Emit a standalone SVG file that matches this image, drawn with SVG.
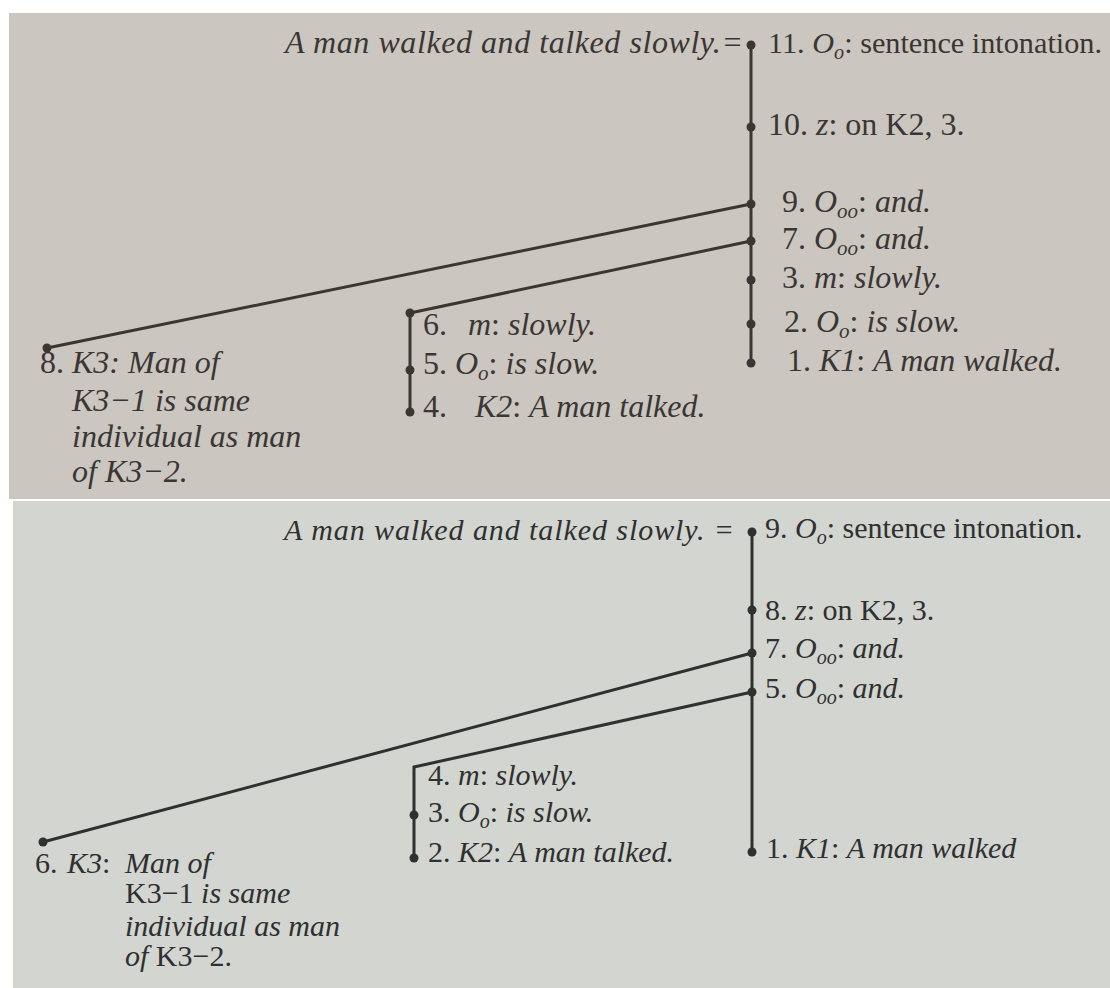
<svg xmlns="http://www.w3.org/2000/svg" width="1110" height="988" viewBox="0 0 1110 988">
<style>
.t{font-family:"Liberation Serif","Times New Roman",serif;font-size:32px;fill:#3a3634}
.b{font-size:30px;fill:#2f302f}
.i{font-style:italic}
.s{font-size:21px;font-style:italic}
.b .s{font-size:20px}
.ln{stroke:#3a3634;stroke-width:3;fill:none;stroke-linecap:round;stroke-linejoin:miter}
.lb{stroke:#2f302f}
.d{fill:#3a3634}
.db{fill:#2f302f}
</style>
<rect x="0" y="0" width="1110" height="988" fill="#ffffff"/>
<rect id="panel-top" x="9" y="13" width="1101" height="486" fill="#cbc6c0"/>
<rect id="panel-bottom" x="13" y="501" width="1097" height="487" fill="#d3d5d1"/>

<!-- TOP PANEL -->
<g id="top-connectors">
<line class="ln" x1="751" y1="45" x2="751" y2="363"/>
<line class="ln" x1="751" y1="204" x2="47" y2="348"/>
<polyline class="ln" points="751,241 410,313 410,412"/>
</g>
<g id="top-title"><text class="t i" x="743" y="53" text-anchor="end" textLength="458" lengthAdjust="spacing">A man walked and talked slowly.=</text></g>
<g id="top-n11"><circle class="d" cx="751" cy="45" r="4.5"/><text class="t" x="768" y="53" style="font-size:30px" textLength="334" lengthAdjust="spacingAndGlyphs">11. <tspan class="i">O</tspan><tspan class="s" style="font-size:20px" dy="6">o</tspan><tspan dy="-6">: sentence intonation.</tspan></text></g>
<g id="top-n10"><circle class="d" cx="751" cy="127" r="4.5"/><text class="t" x="768" y="135">10. <tspan class="i">z</tspan>: on K2, 3.</text></g>
<g id="top-n9"><circle class="d" cx="751" cy="204" r="4.5"/><text class="t" x="782" y="212">9. <tspan class="i">O</tspan><tspan class="s" dy="6">oo</tspan><tspan dy="-6">: </tspan><tspan class="i">and.</tspan></text></g>
<g id="top-n7"><circle class="d" cx="751" cy="241" r="4.5"/><text class="t" x="782" y="249">7. <tspan class="i">O</tspan><tspan class="s" dy="6">oo</tspan><tspan dy="-6">: </tspan><tspan class="i">and.</tspan></text></g>
<g id="top-n3"><circle class="d" cx="751" cy="280" r="4.5"/><text class="t" x="782" y="288">3. <tspan class="i">m</tspan>: <tspan class="i">slowly.</tspan></text></g>
<g id="top-n2"><circle class="d" cx="751" cy="324" r="4.5"/><text class="t" x="784" y="332">2. <tspan class="i">O</tspan><tspan class="s" dy="6">o</tspan><tspan dy="-6">: </tspan><tspan class="i">is slow.</tspan></text></g>
<g id="top-n1"><circle class="d" cx="751" cy="363" r="4.5"/><text class="t" x="787" y="371">1. <tspan class="i">K1</tspan>: <tspan class="i">A man walked.</tspan></text></g>
<g id="top-n6"><circle class="d" cx="410" cy="313" r="4.5"/><text class="t" x="423" y="335">6.<tspan x="468" class="i">m</tspan>: <tspan class="i">slowly.</tspan></text></g>
<g id="top-n5"><circle class="d" cx="410" cy="370" r="4.5"/><text class="t" x="423" y="374">5. <tspan class="i">O</tspan><tspan class="s" dy="6">o</tspan><tspan dy="-6">: </tspan><tspan class="i">is slow.</tspan></text></g>
<g id="top-n4"><circle class="d" cx="410" cy="412" r="4.5"/><text class="t" x="423" y="417">4.<tspan x="475" class="i">K2</tspan>: <tspan class="i">A man talked.</tspan></text></g>
<g id="top-n8"><circle class="d" cx="47" cy="348" r="4.5"/>
<text class="t" x="40" y="373">8. <tspan x="72" class="i">K3: Man of</tspan></text>
<text class="t i" x="72" y="411">K3−1 is same</text>
<text class="t i" x="72" y="447">individual as man</text>
<text class="t i" x="72" y="482">of K3−2.</text></g>

<!-- BOTTOM PANEL -->
<g id="bottom-connectors">
<line class="ln lb" x1="752" y1="532" x2="752" y2="852"/>
<line class="ln lb" x1="752" y1="653" x2="43" y2="842"/>
<polyline class="ln lb" points="752,692 414,767 414,858"/>
</g>
<g id="bottom-title"><text class="t b i" x="734" y="540" text-anchor="end" textLength="450" lengthAdjust="spacing">A man walked and talked slowly. =</text></g>
<g id="bot-n9"><circle class="db" cx="752" cy="532" r="4.5"/><text class="t b" x="765" y="538">9. <tspan class="i">O</tspan><tspan class="s" dy="6">o</tspan><tspan dy="-6">: sentence intonation.</tspan></text></g>
<g id="bot-n8"><circle class="db" cx="752" cy="610" r="4.5"/><text class="t b" x="765" y="620">8. <tspan class="i">z</tspan>: on K2, 3.</text></g>
<g id="bot-n7"><circle class="db" cx="752" cy="653" r="4.5"/><text class="t b" x="765" y="658">7. <tspan class="i">O</tspan><tspan class="s" dy="6">oo</tspan><tspan dy="-6">: </tspan><tspan class="i">and.</tspan></text></g>
<g id="bot-n5"><circle class="db" cx="752" cy="692" r="4.5"/><text class="t b" x="765" y="698">5. <tspan class="i">O</tspan><tspan class="s" dy="6">oo</tspan><tspan dy="-6">: </tspan><tspan class="i">and.</tspan></text></g>
<g id="bot-n4"><text class="t b" x="428" y="785">4. <tspan class="i">m</tspan>: <tspan class="i">slowly.</tspan></text></g>
<g id="bot-n3"><circle class="db" cx="414" cy="815" r="4.5"/><text class="t b" x="428" y="822">3. <tspan class="i">O</tspan><tspan class="s" dy="6">o</tspan><tspan dy="-6">: </tspan><tspan class="i">is slow.</tspan></text></g>
<g id="bot-n2"><circle class="db" cx="414" cy="858" r="4.5"/><text class="t b" x="428" y="862">2. <tspan class="i">K2</tspan>: <tspan class="i">A man talked.</tspan></text></g>
<g id="bot-n1"><circle class="db" cx="752" cy="852" r="4.5"/><text class="t b" x="766" y="858">1. <tspan class="i">K1</tspan>: <tspan class="i">A man walked</tspan></text></g>
<g id="bot-n6"><circle class="db" cx="43" cy="842" r="4.5"/>
<text class="t b" x="35" y="873">6. <tspan x="67" class="i">K3</tspan>:<tspan x="125" class="i">Man of</tspan></text>
<text class="t b" x="125" y="903">K3−1 <tspan class="i">is same</tspan></text>
<text class="t b i" x="125" y="936">individual as man</text>
<text class="t b" x="125" y="966"><tspan class="i">of</tspan> K3−2.</text></g>
</svg>
